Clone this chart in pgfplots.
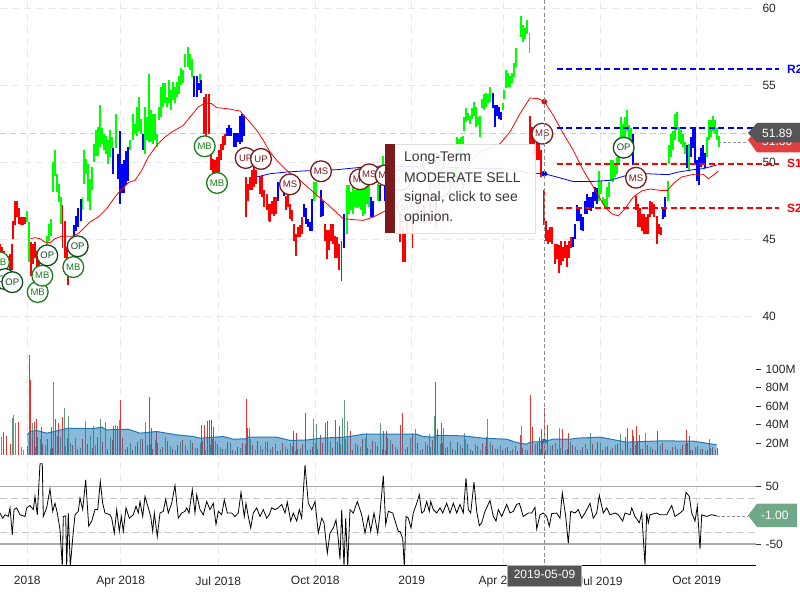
\documentclass[border=0pt]{standalone}
\usepackage{pgfplots}
\pgfplotsset{compat=1.18}
\usepackage{pgfplotstable}
\usepackage{fontspec}
\setmainfont{Liberation Sans}
\definecolor{mbg}{HTML}{1A7F1A}
\definecolor{opg}{HTML}{0F4F1F}
\definecolor{msr}{HTML}{7B1A1A}
\definecolor{gridc}{HTML}{E8E8E8}
\definecolor{volblue}{HTML}{1F77B4}
\definecolor{volred}{HTML}{E8352E}
\definecolor{volgreen}{HTML}{5F9E78}
\definecolor{tagg}{HTML}{6FA987}
\definecolor{tagd}{HTML}{555555}
\definecolor{tagr}{HTML}{E04040}
\definecolor{oscg}{HTML}{ABABAB}
\pgfplotstableread{
x lo hi
27 46.1 46.8
29 43.5 46.1
47 44.4 45.2
49 44.9 46.0
51 45.2 46.3
53 48.05 50.0
55 49.1 50.76
57 48.05 49.2
59 47.4 48.6
61 46.0 47.7
82.5 46.9 47.7
84 48.6 50.76
86 49.2 50.2
88 47.5 49.9
90 46.9 48.9
92 48.2 49.7
94 50.0 51.2
96 50.4 52.1
98 50.4 52.3
100 51.0 53.7
102 51.2 52.2
104 50.8 51.8
106 50.5 51.7
108 49.9 51.4
110 50.3 52.1
112 50.9 51.6
116 50.9 53.1
130 50.8 51.4
133 51.4 53.1
135 51.8 52.5
137 51.7 53.6
139 52.0 54.2
141 51.8 52.8
145 50.5 53.6
147 51.4 52.9
149 51.3 55.7
151 51.3 53.4
153 51.2 53.1
155 51.4 53.1
157 51.0 51.8
159 52.7 53.6
161 52.9 54.9
163 53.6 55.1
165 53.8 55.1
167 53.6 54.2
169 53.8 55.3
171 53.4 54.7
173 54.0 55.2
175 53.8 54.9
177 54.2 55.2
179 54.4 55.6
181 55.0 56.1
183 55.1 56.0
185 56.2 57.0
188 56.2 57.5
190 56.0 57.0
192 55.5 56.7
200 55.2 55.7
314 47.5 48.7
316 47.7 48.7
347 45.35 48.5
349 46.6 48.5
351 46.9 48.05
353 46.6 48.4
355 47.1 48.2
357 47.0 48.3
359 47.1 48.3
361 46.9 48.2
363 46.5 48.3
365 46.6 48.6
367 47.3 48.4
369 47.1 48.6
378 47.5 48.6
383 48.8 50.4
452 47.5 49.0
454 48.0 49.5
456 49.0 50.5
457 50.8 51.6
459 50.1 51.5
461 50.3 51.6
463 50.8 51.7
464 52.0 52.9
466 52.6 53.5
468 52.7 53.2
470 52.5 53.0
472 52.8 53.5
474 53.0 53.9
476 52.3 53.6
478 52.4 52.9
480 51.6 53.0
482 53.5 54.1
484 53.4 54.4
486 53.6 54.5
488 53.8 54.4
490 53.9 54.9
503 53.4 53.8
504 54.1 54.7
506 54.8 56.0
508 54.9 55.8
510 54.9 55.6
512 55.1 55.8
514 55.5 56.4
516 56.2 57.4
521 58.1 59.5
523 57.8 58.9
525 58.0 58.7
527 58.3 59.2
529.5 57.1 58.4
599 47.5 49.4
601 47.9 48.8
603 47.3 47.7
605 47.0 47.6
607 47.1 48.4
609 47.7 48.7
611 48.8 50.1
613 48.7 50.1
615 49.0 49.9
617 49.2 50.3
619 49.9 50.3
621 51.0 52.9
623 51.2 52.5
625 51.6 52.9
627 52.0 53.4
629 51.5 52.4
631 51.2 52.2
668 47.5 48.8
669 49.9 51.1
671 50.3 51.8
673 50.8 52.0
675 51.4 53.1
677 52.1 53.25
679 51.3 52.3
681 51.2 52.1
683 51.0 51.8
685 50.5 51.3
689 49.4 51.2
707 50.3 51.6
709 51.4 52.7
711 51.6 52.7
713 52.0 53.0
715 51.8 52.7
717 51.4 52.2
719 51.0 51.7
}\greenbars
\pgfplotstableread{
x lo hi
0 43.4 44.7
2 43.2 44.5
4 43.5 44.2
6 43.0 44.0
8 43.3 43.9
10 43.0 44.0
12 43.0 44.7
13 45.0 46.2
15 45.9 47.5
17 46.4 47.5
19 46.0 47.0
21 45.9 46.4
23 45.9 46.4
25 46.0 46.4
31 42.6 44.8
33 43.4 44.7
35 43.8 44.8
37 43.2 44.2
39 43.0 44.0
41 43.4 44.2
62.5 44.4 47.2
65 43.8 46.2
67 43.5 44.5
68 42.0 43.8
204 51.8 54.2
206 51.7 54.4
209 51.8 54.4
211 49.5 50.5
213 49.25 50.2
215 49.25 50.1
217 49.25 50.3
219 49.2 50.8
221 50.1 51.2
223 50.8 51.7
225 51.1 51.8
246 46.4 49.0
248 47.5 48.6
250 48.2 49.0
252 48.2 49.5
254 48.4 49.7
256 48.6 49.5
260 47.9 49.1
262 47.7 49.1
264 47.1 48.2
267 46.9 47.9
269 46.2 47.3
270 46.1 47.3
272 46.6 47.5
274 46.5 47.7
276 46.6 47.7
286 46.9 47.8
288 47.1 47.9
290 46.3 47.3
292 46.2 46.9
294 44.9 46.0
296 43.9 45.3
298 45.1 45.8
300 45.1 45.9
302 45.3 46.4
325 44.9 46.0
327 43.7 45.6
329 44.3 45.6
331 44.9 46.0
333 44.7 46.0
335 43.8 45.2
337 43.8 45.1
339 43.0 44.7
341.5 42.3 44.9
388 46.0 48.2
400 44.8 46.6
403 43.5 45.8
405 43.5 45.3
407 45.3 46.6
412.7 44.4 46.4
418 46.4 47.5
424 46.0 47.2
430 46.0 47.5
436 45.8 47.4
530 51.2 53.0
532 51.2 52.3
534 50.5 52.0
537 50.1 51.4
539 50.1 51.2
541 49.0 50.8
544 45.9 48.2
546 44.9 46.2
548 44.7 45.6
550 44.8 45.8
552 44.7 45.8
555 43.4 44.7
557 43.7 44.7
559 42.8 44.6
561 43.3 44.9
563 43.6 44.5
565 43.8 44.9
567 43.2 44.6
569 43.8 44.9
571 44.4 45.1
636 46.9 47.8
638 45.8 47.3
640 45.8 47.0
642 45.5 46.6
644 45.35 46.6
646 45.35 46.4
648 45.35 46.6
650 46.4 47.5
652 46.6 47.4
654 46.4 47.3
657 44.7 46.5
659 45.35 46.0
661 45.25 45.8
}\redbars
\pgfplotstableread{
x lo hi
74 45.2 45.9
76 45.5 46.5
78 45.8 47.0
81 46.2 47.6
113 49.2 50.9
118 48.9 50.5
120 47.3 52.0
122 48.0 49.9
124 48.0 50.1
126 48.5 50.7
128 48.8 51.0
143 50.8 51.8
194 54.2 55.6
197 54.2 55.6
199 54.7 55.1
201 54.5 55.3
227 51.7 52.2
229 51.7 52.4
231 51.7 52.2
234 51.0 51.9
236 51.0 51.9
238 51.3 51.9
240 51.2 53.0
242 51.3 53.1
244 51.7 53.0
278 47.5 48.7
284 47.8 48.4
304 46.4 47.3
306 46.0 47.0
308 45.8 46.3
310 45.5 46.1
312 45.5 47.6
321 46.4 48.2
323 46.5 47.5
344 44.4 46.6
371 46.4 47.7
373 46.4 47.5
380 47.5 48.5
385 47.5 48.8
493 53.5 54.5
495 52.3 53.7
497 53.0 53.7
499 52.8 53.6
501 52.75 53.25
573 44.5 45.1
575 45.0 46.0
577 46.2 47.2
579 46.2 47.1
581 45.6 46.6
583 45.5 46.4
585 46.6 47.5
587 46.6 47.9
589 46.9 47.7
591 46.8 47.7
593 47.0 48.05
595 47.5 48.4
597 47.3 48.3
633 49.8 51.8
663 46.3 47.1
665 46.4 47.7
687 49.6 51.1
691 50.3 51.6
693 50.9 52.2
695 49.9 52.2
697 48.8 50.1
699 48.5 50.3
701 49.7 50.9
703 49.9 51.1
705 49.6 50.6
}\bluebars
\pgfplotsset{
 panel/.style={scale only axis, width=756pt, xmin=0, xmax=756, anchor=south west,
   axis line style={draw=none}, xmajorgrids, xtick={27.3,120.7,218.3,315.3,411.7,503,600,696.7},
   grid style={draw=gridc, line width=0.9pt, dash pattern=on 7pt off 5pt},
   major tick length=0pt, xticklabels={}, xtick pos=bottom, xticklabel pos=bottom,
   ytick pos=right, yticklabel pos=right,
   /pgf/number format/assume math mode=true,
   tick label style={font=\fontsize{12}{14}\selectfont, text=black!85}},
 candle/.style={draw=none, forget plot, mark=none, error bars/.cd, y dir=plus, y explicit, error mark=none,
   error bar style={#1, line width=1.35pt}},
 bubble/.style={only marks, mark=*, mark size=10.4pt, mark options={fill=white, draw=#1, line width=1.3pt},
   nodes near coords, point meta=explicit symbolic,
   every node near coord/.append style={anchor=center, inner sep=0pt, font=\fontsize{9.5}{10}\selectfont, text=#1}},
}
\begin{document}
\begin{tikzpicture}
\path[use as bounding box, clip] (0,0) rectangle (800pt,600pt);
% ---------------- price panel
\begin{axis}[panel, at={(0pt,255pt)}, height=345pt, ymin=38.12, ymax=60.52, clip=false,
  ytick={40,45,50,55,60}, ymajorgrids,
  yticklabel style={anchor=west, xshift=3pt}]
\addplot[draw=black!20, line width=1.5pt, dash pattern=on 6pt off 4pt, forget plot] coordinates {(0,51.85)(748,51.85)};
\addplot[draw=black!40, line width=0.7pt, dash pattern=on 3pt off 2pt, forget plot] coordinates {(718,51.3)(748,51.3)};
\addplot[candle=green] table[x=x,y=lo,y error expr=\thisrow{hi}-\thisrow{lo}] {\greenbars};
\addplot[candle=red] table[x=x,y=lo,y error expr=\thisrow{hi}-\thisrow{lo}] {\redbars};
\addplot[candle=blue] table[x=x,y=lo,y error expr=\thisrow{hi}-\thisrow{lo}] {\bluebars};
% moving averages
\addplot[red, line width=0.8pt] coordinates {(30.7,45.02)(35,45.09)(40,45.02)(45,44.8)(50,44.76)(55,45.02)(61.7,45.18)(71.7,45.18)(78.3,45.35)(83.3,45.67)(90,46.11)(98.3,46.43)(106.7,46.97)(115,47.73)(120,48.12)(128.3,48.66)(135,48.81)(141.7,49.46)(148.3,50.33)(156.7,51.08)(165,51.63)(171.7,51.95)(183.3,52.38)(190,52.92)(198.3,53.57)(205,53.83)(211.7,53.79)(216.7,53.53)(226.7,53.47)(240,53.31)(248.3,52.71)(256.7,52.06)(263.3,51.41)(270,50.65)(276.7,50.11)(286.7,49.46)(300,48.81)(313.3,48.05)(326.7,47.3)(343.3,46.32)(353.3,46.26)(363.3,46.21)(373.3,46.43)(385,46.82)(403.3,47.3)(430,47.73)(456.7,48.6)(476.7,50.54)(500,51.19)(510,51.95)(520,53.14)(530,54.16)(538.3,54.11)(544.3,53.92)(553.3,53.03)(563.3,51.84)(573.3,50.76)(583.3,49.46)(593.3,48.38)(605,47.08)(611.7,46.65)(618.3,46.5)(625,46.97)(633.3,47.73)(641.7,48.12)(650,48.25)(660,48.16)(667.7,48.16)(673.3,48.6)(681.7,49.03)(693.3,49.2)(703.3,49.2)(708.3,48.92)(713.3,49.14)(718.3,49.42)};
\addplot[blue, line width=0.8pt] coordinates {(256.7,49.03)(270,49.24)(286.7,49.35)(303.3,49.42)(320,49.46)(336.7,49.5)(356.7,49.63)(380,49.74)(436.7,49.68)(483.3,49.57)(503.3,49.57)(523.3,49.35)(530,49.29)(544.3,49.24)(556.7,49.03)(573.3,48.73)(590,48.73)(610,48.81)(630,49.2)(646.7,49.24)(668.3,49.18)(678.3,49.35)(693.3,49.5)(703.3,49.57)(716.7,49.81)};
% pivots
\addplot[blue, line width=1.8pt, dash pattern=on 6pt off 3.5pt] coordinates {(556.5,56.04)(779,56.04)};
\addplot[blue, line width=1.8pt, dash pattern=on 6pt off 3.5pt] coordinates {(556.5,52.21)(779,52.21)};
\addplot[red, line width=1.8pt, dash pattern=on 6pt off 3.5pt] coordinates {(556.5,49.87)(779,49.87)};
\addplot[red, line width=1.8pt, dash pattern=on 6pt off 3.5pt] coordinates {(556.5,47.0)(779,47.0)};
% signal bubbles
\addplot[bubble=mbg] table[meta=t] {
x y t
-1 43.5 MB
37.7 41.56 MB
42.3 42.62 MB
73.3 43.18 MB
204.7 51.02 MB
217 48.64 MB
};
\addplot[bubble=opg] table[meta=t] {
x y t
5 42.4 OP
12.3 42.2 OP
47.3 43.94 OP
77.7 44.53 OP
453 48.4 OP
623.7 50.93 OP
};
\addplot[bubble=msr] table[meta=t] {
x y t
245.7 50.26 UP
261 50.2 UP
290 48.55 MS
321 49.4 MS
360 48.88 MS
369.3 49.2 MS
385.7 49.14 MS
400 48.81 MS
408 47.08 MS
433.3 49.9 MS
440 48.4 MS
542.3 51.84 MS
636 48.98 MS
};
\addplot[only marks, mark=*, mark size=2.6pt, red] coordinates {(544.3,53.92)};
\addplot[only marks, mark=*, mark size=2.6pt, blue] coordinates {(544.3,49.24)};
\end{axis}
% ---------------- volume panel
\begin{axis}[panel, at={(0pt,145pt)}, height=110pt, ymin=7.03, ymax=125.95,
  ytick={20,40,60,80,100}, yticklabels={20M,40M,60M,80M,100M},
  major tick length=5pt, tick align=outside, ytick style={draw=black!80, line width=0.7pt}, xtick style={draw=none},
  yticklabel style={anchor=west, xshift=1pt}]
\addplot[ycomb, volgreen, line width=0.8pt] coordinates {(1,27)(12.7,46.8)(13.3,50.4)(15.7,41.4)(21.7,15.5)(23.3,12.6)(32.7,41.4)(53.3,85.7)(64.3,57.6)(68.3,49.3)(85,43.9)(93.3,38.5)(100,45.7)(105,43.2)(115,39.6)(119.3,45)(145.7,42.5)(249.3,36)(313.3,45.7)(316.7,40.7)(342.3,46.8)(344.3,66.6)(347.3,43.9)(366.7,31.3)(380,42.1)(415,34.9)(429.3,29.9)(434,49.3)(443.3,36)(464.3,31.3)(487.3,45.7)(521.7,38.5)(559.3,36)(590.7,30.6)(620,29.5)(645,30.6)(709.3,24)
(30,21)(35,16)(40,24)(45,18)(50,14)(55,22)(60,26)(65,17)(70,20)(75,25)(80,15)(85,21)(90,28)(95,18)(100,24)(105,16)(110,27)(115,19)(120,22)(125,14)(130,20)(135,17)(140,24)(145,13)(150,19)(155,23)(160,14)(165,26)(170,17)(175,12)(180,21)(185,18)(190,23)(195,15)(200,20)(205,12)(210,18)(215,22)(220,16)(225,13)(230,20)(235,11)(240,15)(245,19)(250,24)(255,12)(260,17)(265,21)(270,14)(275,19)(280,12)(285,16)(290,20)(295,11)(300,15)(305,18)(310,13)(315,20)(320,17)(325,12)(330,22)(335,15)(340,19)(345,24)(350,13)(355,20)(360,16)(365,25)(370,14)(375,21)(380,18)(385,12)(390,23)(395,16)(400,20)(405,14)(410,25)(415,17)(420,12)(425,21)(430,16)(435,13)(440,19)(445,15)(450,22)(455,12)(460,18)(465,24)(470,14)(475,19)(480,12)(485,17)(490,21)(495,13)(500,18)(505,15)(510,11)(515,17)(520,13)(525,12)(530,16)(535,19)(540,14)(545,12)(550,17)(555,20)(560,15)(565,12)(570,21)(575,16)(580,12)(585,19)(590,23)(595,14)(600,20)(605,16)(610,12)(615,18)(620,21)(625,11)(630,15)(635,18)(640,13)(645,20)(650,16)(655,12)(660,18)(665,14)(670,11)(675,17)(680,13)(685,19)(690,12)(695,16)(700,13)(705,11)(710,15)(715,12)};
\addplot[ycomb, volred, line width=0.8pt] coordinates {(3.3,32.4)(6.7,28)(10,19)(18.3,43.2)(29.3,115)(30.3,88)(34.3,43)(36,45.7)(41.7,37.8)(51.7,37)(55,45.7)(58.3,41.4)(62.3,47.9)(113.3,38.5)(117.3,38.5)(120.3,66.6)(149.3,69.5)(151.7,36)(156.7,33.5)(201.7,39.6)(204,39.6)(207.3,43.9)(209.3,45)(211.7,45)(213.3,37)(246.3,67.3)(247.7,36)(293.3,33)(296.7,30.6)(305.3,52.2)(320,28.8)(325.7,41.4)(327.7,43.9)(335,45)(339.3,38.5)(350,33.5)(383.3,33)(386.7,33)(400,39.6)(402.3,52.2)(412.7,31.3)(435.3,85.7)(437.7,34.9)(441.7,41.4)(486,26.9)(520,28.8)(530.7,72)(532.3,37.8)(539,26.9)(541.7,35.3)(544.3,58.3)(547.3,39.6)(562.7,34.9)(568.3,30.6)(625,27)(627.3,36)(632.3,34.2)(633.3,27.7)(636.3,38.5)(639.3,28.8)(657.3,33)(686,34.2)(689.3,27.7)
(27.5,17)(32.5,23)(37.5,27)(42.5,19)(47.5,24)(52.5,15)(57.5,28)(62.5,20)(67.5,25)(72.5,18)(77.5,13)(82.5,24)(87.5,19)(92.5,15)(97.5,26)(102.5,21)(107.5,14)(112.5,23)(117.5,17)(122.5,25)(127.5,16)(132.5,12)(137.5,21)(142.5,24)(147.5,18)(152.5,13)(157.5,20)(162.5,16)(167.5,22)(172.5,14)(177.5,18)(182.5,23)(187.5,12)(192.5,20)(197.5,15)(202.5,22)(207.5,17)(212.5,24)(217.5,19)(222.5,14)(227.5,21)(232.5,12)(237.5,16)(242.5,20)(247.5,14)(252.5,18)(257.5,22)(262.5,13)(267.5,21)(272.5,16)(277.5,11)(282.5,20)(287.5,14)(292.5,17)(297.5,13)(302.5,19)(307.5,12)(312.5,16)(317.5,14)(322.5,20)(327.5,24)(332.5,15)(337.5,21)(342.5,16)(347.5,20)(352.5,12)(357.5,18)(362.5,24)(367.5,15)(372.5,22)(377.5,17)(382.5,13)(387.5,25)(392.5,19)(397.5,14)(402.5,22)(407.5,16)(412.5,24)(417.5,20)(422.5,14)(427.5,18)(432.5,23)(437.5,12)(442.5,20)(447.5,16)(452.5,13)(457.5,21)(462.5,15)(467.5,19)(472.5,11)(477.5,17)(482.5,20)(487.5,13)(492.5,18)(497.5,14)(502.5,12)(507.5,16)(512.5,13)(517.5,11)(522.5,15)(527.5,12)(532.5,17)(537.5,20)(542.5,22)(547.5,15)(552.5,18)(557.5,13)(562.5,20)(567.5,14)(572.5,18)(577.5,12)(582.5,16)(587.5,13)(592.5,19)(597.5,21)(602.5,12)(607.5,17)(612.5,15)(617.5,19)(622.5,12)(627.5,20)(632.5,16)(637.5,21)(642.5,14)(647.5,18)(652.5,13)(657.5,17)(662.5,20)(667.5,12)(672.5,16)(677.5,14)(682.5,18)(687.5,20)(692.5,12)(697.5,17)(702.5,14)(707.5,12)(712.5,16)(717.5,15)};
\addplot[draw=none, fill=volblue, fill opacity=0.52] coordinates {(27.3,28.8)(30,32.4)(36.7,33.5)(46.7,30.6)(58.3,33.5)(68.3,36)(93.3,35.6)(101.7,37.1)(106.7,34.2)(128.3,34.9)(140,30.6)(156.7,32.4)(176.7,28.8)(193.3,27)(200,25.2)(223.3,27)(233.3,24.1)(245,24.5)(248.3,26.3)(276.7,26.3)(290,22.7)(308.3,23.4)(320,25.2)(343.3,26.3)(353.3,27.7)(363.3,29.5)(400,29.5)(416.7,29.5)(423.3,27)(433.3,26.3)(436.7,28.4)(463.3,27.7)(483.3,25.2)(506.7,24.1)(516.7,20.5)(526.7,18.7)(530,20.9)(543.3,21.6)(553.3,24.1)(570,24.1)(576.7,25.2)(600,26.3)(620,22.3)(626.7,20.9)(660,22.3)(693.3,22)(716.7,18)} \closedcycle;
\addplot[volblue, line width=1pt] coordinates {(27.3,28.8)(30,32.4)(36.7,33.5)(46.7,30.6)(58.3,33.5)(68.3,36)(93.3,35.6)(101.7,37.1)(106.7,34.2)(128.3,34.9)(140,30.6)(156.7,32.4)(176.7,28.8)(193.3,27)(200,25.2)(223.3,27)(233.3,24.1)(245,24.5)(248.3,26.3)(276.7,26.3)(290,22.7)(308.3,23.4)(320,25.2)(343.3,26.3)(353.3,27.7)(363.3,29.5)(400,29.5)(416.7,29.5)(423.3,27)(433.3,26.3)(436.7,28.4)(463.3,27.7)(483.3,25.2)(506.7,24.1)(516.7,20.5)(526.7,18.7)(530,20.9)(543.3,21.6)(553.3,24.1)(570,24.1)(576.7,25.2)(600,26.3)(620,22.3)(626.7,20.9)(660,22.3)(693.3,22)(716.7,18)};
\addplot[only marks, mark=*, mark size=2.4pt, volblue] coordinates {(544.3,22)};
\end{axis}
% ---------------- oscillator panel
\begin{axis}[panel, at={(0pt,35pt)}, height=109pt, ymin=-86.7, ymax=103.5,
  ytick={-50,50}, yticklabels={-50,50},
  major tick length=5pt, tick align=outside, ytick style={draw=black!80, line width=0.7pt}, xtick style={draw=none},
  xticklabels={2018,Apr 2018,Jul 2018,Oct 2018,2019,Apr 2019,Jul 2019,Oct 2019},
  xticklabel style={yshift=-3pt},
  yticklabel style={anchor=west, xshift=1pt}]
\addplot[oscg, line width=1.5pt] coordinates {(0,50)(756,50)};
\addplot[oscg, line width=1.5pt] coordinates {(0,-50.4)(756,-50.4)};
\addplot[black!22, line width=0.9pt, dash pattern=on 7pt off 4pt] coordinates {(0,30)(756,30)};
\addplot[black!22, line width=0.9pt, dash pattern=on 7pt off 4pt] coordinates {(0,-30)(756,-30)};
\addplot[black, line width=0.8pt] coordinates {(0,4)(2.7,-5)(5,1)(8.3,-2)(10,13)(12.3,-34)(14,10)(16.7,13)(20,1)(25,-2)(26.7,13)(30,17)(33.3,10)(35,33)(37.3,1)(40,90)(42.3,90)(43.3,-2)(46.7,13)(50,46)(52.7,7)(55,21)(57.3,4)(60,-25)(62.3,-89)(63.3,-2)(65.7,-1)(66.7,-89)(68.3,4)(70.3,-89)(72.7,-40)(75,1)(78.3,7)(80,30)(82.7,10)(85.7,62)(88.7,-19)(91.7,-10)(95,10)(97.7,10)(100.3,59)(102.7,21)(105,4)(110,1)(111.7,-5)(114.3,-31)(116.7,10)(119.3,-28)(121.3,-2)(123.3,-28)(126,13)(129.3,-5)(133.3,1)(136,16)(138.3,4)(140,24)(142.7,-2)(145,33)(148.3,13)(150.7,-2)(152.7,-28)(154.3,4)(157.3,-37)(160,4)(163.3,7)(165.7,28)(168.3,4)(171.7,21)(175,52)(178.3,-5)(181.7,4)(185,7)(186.7,13)(189,4)(192.3,45)(195,4)(196.7,36)(200,10)(203.3,1)(206.7,24)(210,10)(213.3,21)(216,-16)(218.3,7)(221.7,1)(224.3,27)(227.3,4)(231.7,4)(235,-2)(238.3,4)(241,40)(244.3,-2)(246,21)(248.3,-2)(250.7,-22)(253.3,4)(256.7,13)(260,-2)(263.3,10)(266.7,-5)(269.3,1)(271.7,13)(275,10)(278.3,13)(281.7,19)(285,4)(287.3,23)(290.7,-10)(293.3,4)(296.7,-10)(299.3,10)(301.7,-5)(305,88)(308.3,21)(311.7,10)(315,24)(318.3,-31)(321.7,-5)(324,-13)(327.3,-66)(330,-31)(333.3,-22)(336,-8)(338.3,-42)(340,-77)(341.7,10)(344,-89)(345.7,-5)(347.7,-89)(350,10)(353.3,4)(357.3,24)(361.7,1)(365,-31)(368.3,-2)(370.7,-28)(374,4)(377.7,-31)(380,4)(383.3,69)(385.7,-16)(388.3,7)(392.7,4)(396.7,-19)(398.3,-28)(400,-28)(402.7,-40)(404.3,-89)(406,-2)(408.3,-5)(411,-22)(413.3,4)(416.7,21)(419.3,36)(421.7,4)(424,7)(426.7,24)(429.3,7)(430.7,24)(433.3,10)(436.7,4)(440,13)(442.7,4)(446.7,21)(450,4)(453.3,21)(456.7,4)(460,19)(463.3,4)(466,65)(468.3,10)(470.7,4)(474,58)(476.7,7)(479.3,-18)(481.7,-13)(485,7)(490,26)(493.3,-2)(496,-10)(498.3,10)(501.7,-2)(506.7,19)(510,4)(513.3,7)(516.7,19)(519.3,21)(523.3,-2)(528.3,4)(531.7,4)(535,14)(536.7,-24)(540,1)(543.3,4)(546.7,-2)(549.3,-19)(551.7,3)(556.7,4)(560,-5)(562.3,39)(565.7,-2)(568.3,-49)(570.7,7)(575,4)(578.3,10)(581.7,-5)(585,4)(590,21)(593.3,-5)(596.7,4)(599.3,35)(603.3,4)(606.7,13)(610,1)(615,4)(618.3,1)(622.7,-10)(625,4)(630,1)(631.7,13)(635,-2)(639.3,-13)(641.7,4)(645,-87)(646.7,4)(648.3,-13)(650,1)(656.7,4)(660,1)(666.7,1)(671.7,17)(675,-2)(680,4)(683.3,9)(686,40)(689.3,33)(691.7,4)(695,-10)(697.3,16)(700,-59)(701.7,1)(706.7,-2)(711.7,1)(716.7,-1)};
\addplot[black!45, line width=0.7pt, dash pattern=on 3pt off 2pt] coordinates {(717,-1)(748,-1)};
\end{axis}
% ---------------- overlays (pixel frame, y downward)
\begin{scope}[x=1pt,y=-1pt,shift={(0pt,600pt)}]
\draw[black, line width=0.8pt] (0,565) -- (756,565);
\draw[black!45, line width=0.7pt, dash pattern=on 4pt off 2.5pt] (544,0) -- (544,565);
% tooltip
\fill[msr] (385,144) rectangle (395,233);
\fill[white, fill opacity=0.9] (395,144) rectangle (535,233);
\draw[black!12, line width=0.8pt] (395,144) -- (535,144) -- (535,233) -- (395,233);
\foreach \yy/\tt in {158/Long-Term,178/MODERATE SELL,198/{signal, click to see},218/opinion.}
  \node[anchor=west, inner sep=0pt, text=black!78, font=\fontsize{14}{16}\selectfont] at (404,\yy) {\tt};
% pivot labels
\foreach \yy/\tt/\cc in {69/R2/blue,129/R1/blue,163.5/S1/red,208/S2/red}
  \node[anchor=west, inner sep=0pt, text=\cc, font=\bfseries\fontsize{12}{14}\selectfont] at (787,\yy) {\tt};
% price tags
\fill[tagr] (748,140) -- (757,128) -- (800,128) -- (800,152.5) -- (757,152.5) -- cycle;
\node[anchor=west, inner sep=0pt, text=white, font=\fontsize{12}{14}\selectfont] at (762,141.5) {51.30};
\fill[tagd] (748,133) -- (757,123) -- (800,123) -- (800,142.5) -- (757,142.5) -- cycle;
\node[anchor=west, inner sep=0pt, text=white, font=\fontsize{12}{14}\selectfont] at (762,133) {51.89};
\fill[tagg] (748,515.5) -- (757,503.5) -- (797,503.5) -- (797,527) -- (757,527) -- cycle;
\node[anchor=west, inner sep=0pt, text=white, font=\fontsize{12}{14}\selectfont] at (761,515.5) {-1.00};
% date flag
\fill[tagd, draw=black!30, line width=0.8pt] (507.5,565) rectangle (581.5,586.5);
\node[inner sep=0pt, text=white, font=\fontsize{12}{14}\selectfont] at (544.5,574.5) {2019-05-09};
\end{scope}
\end{tikzpicture}
\end{document}
